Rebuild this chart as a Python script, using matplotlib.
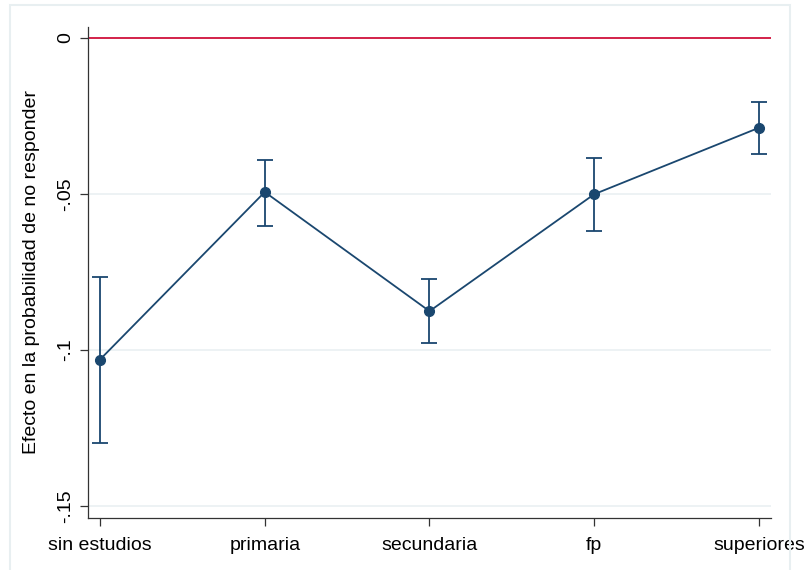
import matplotlib

matplotlib.use("Agg")

import matplotlib.pyplot as plt
from matplotlib.patches import Rectangle

plt.rcParams["font.family"] = ["Liberation Sans", "DejaVu Sans"]

CATEGORIES = ["sin estudios", "primaria", "secundaria", "fp", "superiores"]
EFFECTS = [-0.1031, -0.0494, -0.0876, -0.0501, -0.0288]
CI_LOW = [-0.1297, -0.0603, -0.0979, -0.0619, -0.0372]
CI_HIGH = [-0.0766, -0.0391, -0.0774, -0.0385, -0.0205]
Y_TICKS = [0, -0.05, -0.1, -0.15]
Y_TICK_LABELS = ["0", "-.05", "-.1", "-.15"]

NAVY = "#1a476f"
RED = "#d0103a"
GRID = "#e8eff1"

fig = plt.figure(figsize=(8.11, 5.70), dpi=100, facecolor="white")
ax = fig.add_axes([88 / 811, 1 - 518 / 570, (771 - 88) / 811, (518 - 27) / 570])

# stata-style outer border
fig.patches.append(
    Rectangle((10 / 811, -0.01), 780 / 811, 1 - 5 / 570 + 0.01,
              transform=fig.transFigure, fill=False,
              edgecolor="#e8eff1", linewidth=1.5)
)

x = list(range(len(CATEGORIES)))

for val in Y_TICKS[1:]:
    ax.axhline(val, color=GRID, linewidth=1.1, zorder=0)
ax.axhline(0, color=RED, linewidth=1.3, zorder=1)

yerr = [
    [e - lo for e, lo in zip(EFFECTS, CI_LOW)],
    [hi - e for e, hi in zip(EFFECTS, CI_HIGH)],
]
ax.errorbar(
    x, EFFECTS, yerr=yerr,
    color=NAVY, linewidth=1.3,
    marker="o", markersize=7,
    capsize=5.5, capthick=1.3, elinewidth=1.3,
    zorder=3,
)

ax.set_xlim(-0.073, 4.073)
ax.set_ylim(-0.1539, 0.0035)
ax.set_xticks(x)
ax.set_xticklabels(CATEGORIES, fontsize=14)
ax.set_yticks(Y_TICKS)
ax.set_yticklabels(Y_TICK_LABELS, fontsize=14, rotation=90, va="center")
ax.tick_params(axis="both", direction="out", length=6, width=0.9,
               color="#333333")
ax.tick_params(axis="x", pad=8)
ax.tick_params(axis="y", pad=4)
ax.set_ylabel("Efecto en la probabilidad de no responder", fontsize=14,
              labelpad=12)

for side in ("top", "right"):
    ax.spines[side].set_visible(False)
for side in ("left", "bottom"):
    ax.spines[side].set_color("#333333")
    ax.spines[side].set_linewidth(0.9)

fig.savefig("out.png", dpi=100)
